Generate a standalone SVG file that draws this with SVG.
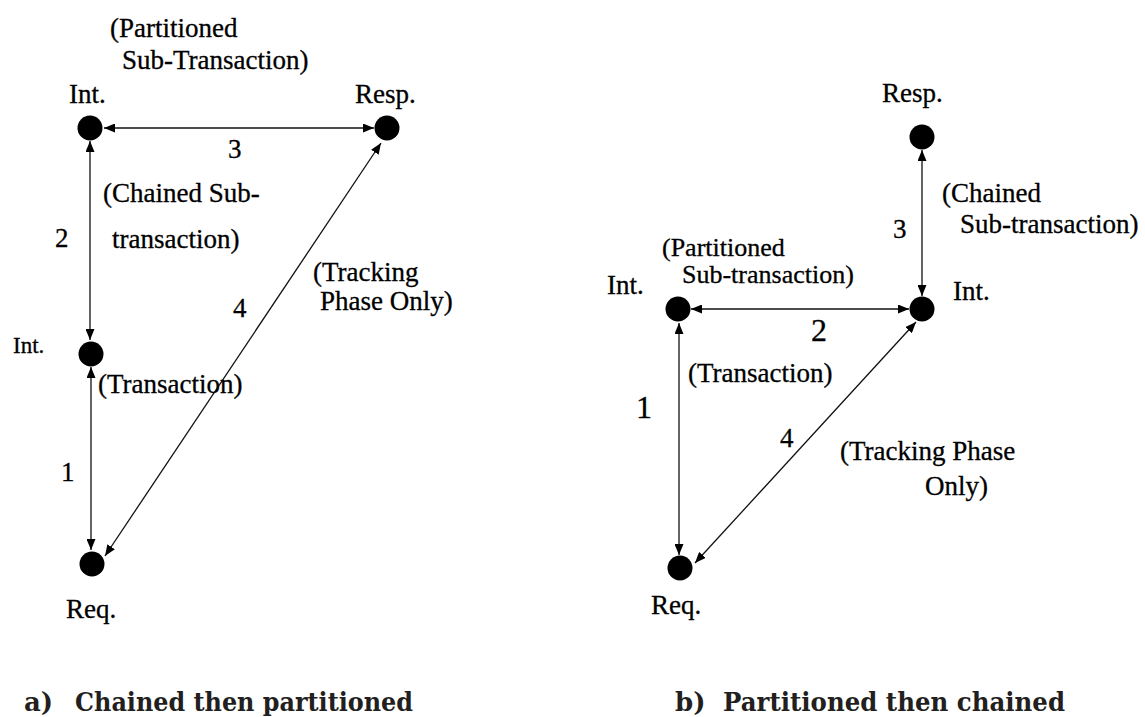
<svg xmlns="http://www.w3.org/2000/svg" width="1145" height="717" viewBox="0 0 1145 717">
<style>
.lbl{font-family:'Liberation Serif','DejaVu Serif',serif;font-size:27px;fill:#000;stroke:#000;stroke-width:0.3}
.big{font-size:32px}
.cap{font-family:'DejaVu Serif','Liberation Serif',serif;font-weight:bold;font-size:26px;fill:#231f20}
.node{fill:#000}
.edge{stroke:#111;stroke-width:1.3;fill:none;marker-start:url(#ah);marker-end:url(#ah)}
</style>
<defs>
<marker id="ah" markerUnits="userSpaceOnUse" markerWidth="11" markerHeight="9" refX="11" refY="4.5" orient="auto-start-reverse">
<path d="M0,0 L11,4.5 L0,9 z" fill="#000"/>
</marker>
</defs>
<rect width="1145" height="717" fill="#fff"/>
<g id="connectors">
<line class="edge" x1="104" y1="128" x2="374" y2="128"/>
<line class="edge" x1="90" y1="141" x2="90" y2="340"/>
<line class="edge" x1="91" y1="367" x2="91" y2="550"/>
<line class="edge" x1="105" y1="556" x2="381" y2="143"/>
<line class="edge" x1="922" y1="150" x2="922" y2="296"/>
<line class="edge" x1="691" y1="309" x2="909" y2="309"/>
<line class="edge" x1="679" y1="323" x2="679" y2="555"/>
<line class="edge" x1="695" y1="563" x2="916" y2="322"/>
</g>
<g id="a-int-top"><circle class="node" cx="90" cy="128" r="12.5"/><text class="lbl" x="69" y="103">Int.</text></g>
<g id="a-resp"><circle class="node" cx="387" cy="128" r="12.5"/><text class="lbl" x="355" y="103">Resp.</text></g>
<g id="a-int-mid"><circle class="node" cx="91" cy="354" r="12.5"/><text class="lbl" x="13" y="353" style="font-size:23px">Int.</text></g>
<g id="a-req"><circle class="node" cx="92" cy="564" r="12.5"/><text class="lbl" x="66" y="618">Req.</text></g>
<g id="a-labels">
<text class="lbl" x="110" y="37">(Partitioned</text>
<text class="lbl" x="122" y="69">Sub-Transaction)</text>
<text class="lbl" x="228" y="158">3</text>
<text class="lbl" x="103" y="202">(Chained Sub-</text>
<text class="lbl" x="55" y="247">2</text>
<text class="lbl" x="112" y="248">transaction)</text>
<text class="lbl" x="313" y="281">(Tracking</text>
<text class="lbl" x="320" y="310">Phase Only)</text>
<text class="lbl" x="233" y="317">4</text>
<text class="lbl" x="98" y="393">(Transaction)</text>
<text class="lbl" x="61" y="481">1</text>
</g>
<g id="b-resp"><circle class="node" cx="922" cy="137" r="12.5"/><text class="lbl" x="882" y="102">Resp.</text></g>
<g id="b-int-right"><circle class="node" cx="922" cy="309" r="12.5"/><text class="lbl" x="953" y="300">Int.</text></g>
<g id="b-int-left"><circle class="node" cx="678" cy="309" r="12.5"/><text class="lbl" x="607" y="294">Int.</text></g>
<g id="b-req"><circle class="node" cx="680" cy="568" r="12.5"/><text class="lbl" x="651" y="614">Req.</text></g>
<g id="b-labels">
<text class="lbl" x="942" y="202">(Chained</text>
<text class="lbl" x="960" y="233">Sub-transaction)</text>
<text class="lbl" x="893" y="238">3</text>
<text class="lbl" x="662" y="256" style="font-size:26px">(Partitioned</text>
<text class="lbl" x="682" y="283" style="font-size:26px">Sub-transaction)</text>
<text class="lbl big" x="811" y="341">2</text>
<text class="lbl" x="688" y="382">(Transaction)</text>
<text class="lbl big" x="636" y="418">1</text>
<text class="lbl" x="780" y="447">4</text>
<text class="lbl" x="840" y="460">(Tracking Phase</text>
<text class="lbl" x="925" y="495">Only)</text>
</g>
<g id="captions">
<text class="cap" x="24" y="711">a)</text>
<text class="cap" x="75" y="711" textLength="338" lengthAdjust="spacingAndGlyphs">Chained then partitioned</text>
<text class="cap" x="675" y="711">b)</text>
<text class="cap" x="723" y="711" textLength="342" lengthAdjust="spacingAndGlyphs">Partitioned then chained</text>
</g>
</svg>
